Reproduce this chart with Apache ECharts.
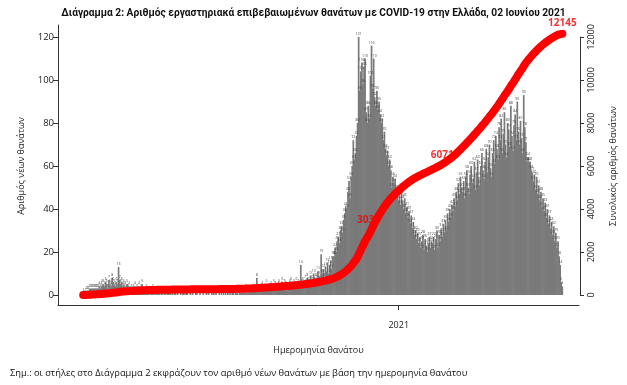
<!DOCTYPE html>
<html><head><meta charset="utf-8">
<script src="https://cdn.jsdelivr.net/npm/echarts@6/dist/echarts.min.js"></script>
<style>html,body{margin:0;padding:0;background:#fff}#c{width:627px;height:385px}</style>
</head><body><div id="c"></div>
<script>
// ---- data (daily deaths by date of death, from 12 March 2020) ----
const firstDay = [2020, 2, 12];
const deathsMar2020 = [1,0,1,2,2,2,3,3,3,3,3,3,3,3,3,4,3,4,5,5];
const deathsApr2020 = [4,6,5,3,7,5,4,8,6,5,4,6,5,13,7,5,6,4,5,4,3,5,3,4,2,3,2,3,4,2];
const deathsMay2020 = [3,2,4,2,3,5,2,1,2,3,1,2,0,2,1,3,1,0,2,1,1,2,0,1,1,0,2,1,0,1,1];
const deathsJun2020 = [1,0,1,0,1,2,0,1,0,0,1,0,1,1,0,2,1,0,0,1,0,1,0,0,1,1,0,0,1,0];
const deathsJul2020 = [0,1,0,0,1,0,1,0,0,2,0,1,0,1,0,0,1,0,1,0,2,0,1,0,1,0,1,0,2,1,0];
const deathsAug2020 = [1,1,1,0,2,1,2,1,1,2,3,1,2,1,2,2,3,2,3,2,8,2,2,3,2,4,3,3,2,5,3];
const deathsSep2020 = [3,2,4,3,2,5,4,3,2,4,5,3,4,6,3,5,4,2,3,4,5,6,4,3,5,4,6,3,5,4];
const deathsOct2020 = [14,5,6,4,7,5,8,6,5,9,7,6,10,6,8,7,11,9,7,19,10,12,8,13,11,15,10,14,16,12,18];
const deathsNov2020 = [18,22,20,25,27,24,30,32,29,35,38,41,40,48,53,45,55,60,72,63,66,74,80,121,95,104,108,98,106,110];
const deathsDec2020 = [85,80,88,82,102,116,96,110,92,88,95,86,90,84,80,82,72,76,68,65,67,60,63,58,50,55,52,54,46,49,44];
const deathsJan2021 = [46,42,50,44,40,45,38,41,36,39,33,37,31,34,28,30,26,29,24,27,22,25,28,21,26,23,20,24,27,22,25];
const deathsFeb2021 = [24,27,21,26,30,22,28,25,31,27,33,29,35,30,38,34,40,36,42,39,45,41,48,44,52,47,55,50];
const deathsMar2021 = [48,53,45,55,58,50,47,56,60,52,54,62,49,57,63,55,51,60,66,58,54,62,68,57,64,70,59,55,66,72,61];
const deathsApr2021 = [74,68,63,78,72,82,66,75,85,70,64,80,77,69,88,74,67,79,84,72,90,76,70,81,73,66,93,78,71,62];
const deathsMay2021 = [64,62,62,58,57,53,56,49,55,47,51,44,48,41,45,39,43,36,40,33,37,31,34,28,32,25,29,22,25,18,14];
const deathsJun2021 = [6,4];

const cumLabelDates = [[2020,11,6],[2021,1,10],[2021,5,2]];
const cumLabelTexts = ['3036','6071','12145'];
const xTickDates = [[2021,0,1]];
const xTickTexts = ['2021'];

const titleText = 'Διάγραμμα 2: Αριθμός εργαστηριακά επιβεβαιωμένων θανάτων με COVID-19 στην Ελλάδα, 02 Ιουνίου 2021';
const noteText = 'Σημ.: οι στήλες στο Διάγραμμα 2 εκφράζουν τον αριθμό νέων θανάτων με βάση την ημερομηνία θανάτου';
const leftName = 'Αριθμός νέων θανάτων';
const rightName = 'Συνολικός αριθμός θανάτων';
const xName = 'Ημερομηνία θανάτου';

// ---- build ----
const daily = [].concat(deathsMar2020, deathsApr2020, deathsMay2020, deathsJun2020, deathsJul2020,
  deathsAug2020, deathsSep2020, deathsOct2020, deathsNov2020, deathsDec2020, deathsJan2021,
  deathsFeb2021, deathsMar2021, deathsApr2021, deathsMay2021, deathsJun2021);
const DAY = 86400000;
const t0 = Date.UTC(firstDay[0], firstDay[1], firstDay[2]);
const barData = [], cumData = [];
let run = 0;
daily.forEach((v, i) => {
  const t = t0 + i * DAY;
  run += v;
  barData.push([t, v]);
  cumData.push([t, run]);
});
const cumAt = t => { const i = Math.round((t - t0) / DAY); return cumData[Math.max(0, Math.min(cumData.length - 1, i))][1]; };
const labelOffsets = [[-3, 0], [0, 0], [0, -2]];
const labelData = cumLabelDates.map((d, k) => {
  const t = Date.UTC(d[0], d[1], d[2]);
  return { value: [t, cumAt(t)], name: cumLabelTexts[k], label: { offset: labelOffsets[k] } };
});
const xMin = t0 - 23.5 * DAY;
const xMax = t0 + (daily.length - 1 + 16.5) * DAY;
const xTicks = xTickDates.map(d => Date.UTC(d[0], d[1], d[2]));

const FONT = 'Open Sans';
const AX = '#333';
const chart = echarts.init(document.getElementById('c'), null, { renderer: 'canvas' });
chart.setOption({
  animation: false,
  backgroundColor: '#fff',
  textStyle: { fontFamily: FONT },
  title: [
    { text: titleText, left: 'center', top: 3, textStyle: { fontFamily: 'Roboto', fontSize: 10.2, fontWeight: 'bold', color: '#111' } },
    { text: noteText, left: 5, top: 364, textStyle: { fontFamily: FONT, fontSize: 9.3, fontWeight: 'normal', color: '#111' } }
  ],
  grid: [
    { left: 58, right: 47, top: 37, bottom: 90 },
    { left: 58, right: 48, top: 25, bottom: 80 }
  ],
  xAxis: [
    { gridIndex: 0, type: 'value', min: xMin, max: xMax, show: false, splitLine: { show: false } },
    { gridIndex: 1, type: 'value', min: xMin, max: xMax,
      axisLine: { show: true, onZero: false, lineStyle: { color: AX, width: 1 } },
      axisTick: { show: true, customValues: xTicks, length: 5, lineStyle: { color: AX } },
      axisLabel: { show: true, customValues: xTicks, margin: 16, fontSize: 9, color: '#222', fontFamily: FONT,
        formatter: v => { const k = xTicks.indexOf(v); return k >= 0 ? xTickTexts[k] : ''; } },
      splitLine: { show: false },
      name: xName, nameLocation: 'middle', nameGap: 41,
      nameTextStyle: { fontSize: 9, color: '#222', fontFamily: FONT } }
  ],
  yAxis: [
    { gridIndex: 0, type: 'value', position: 'left', min: 0, max: 120, interval: 20,
      axisLine: { show: false },
      axisTick: { show: true, length: 5, lineStyle: { color: AX } },
      axisLabel: { fontSize: 9.5, color: '#222', margin: 4, fontFamily: FONT },
      splitLine: { show: false },
      name: leftName, nameLocation: 'middle', nameGap: 32, nameRotate: 90,
      nameTextStyle: { fontSize: 9, color: '#222', fontFamily: FONT } },
    { gridIndex: 0, type: 'value', position: 'right', min: 0, max: 12000, interval: 2000,
      axisLine: { show: true, lineStyle: { color: AX, width: 1 } },
      axisTick: { show: true, length: 4, lineStyle: { color: AX } },
      axisLabel: { fontSize: 9, color: '#222', margin: 7, rotate: 90, fontFamily: FONT, formatter: v => String(v) },
      splitLine: { show: false },
      name: rightName, nameLocation: 'middle', nameGap: 29, nameRotate: 90,
      nameTextStyle: { fontSize: 9, color: '#222', fontFamily: FONT } },
    { gridIndex: 1, type: 'value', position: 'left', min: 0, max: 1,
      axisLine: { show: true, onZero: false, lineStyle: { color: AX, width: 1 } },
      axisTick: { show: false }, axisLabel: { show: false }, splitLine: { show: false } }
  ],
  series: [
    { type: 'bar', xAxisIndex: 0, yAxisIndex: 0, data: barData, barWidth: 1.7,
      itemStyle: { color: '#7a7a7a' },
      label: { show: true, position: 'top', distance: 1, fontSize: 3.5, color: '#444', fontFamily: FONT },
      z: 2 },
    { type: 'scatter', xAxisIndex: 0, yAxisIndex: 1, data: labelData, symbolSize: 0, clip: false,
      label: { show: true, position: 'top', distance: 4, formatter: p => p.name, color: '#ee0000', fontSize: 10, fontWeight: 'bold', fontFamily: FONT },
      z: 3 },
    { type: 'line', xAxisIndex: 0, yAxisIndex: 1, data: cumData, showSymbol: false, symbol: 'none', clip: false,
      smooth: 0.3,
      lineStyle: { color: '#ff0000', width: 8, cap: 'round', join: 'round' },
      z: 5 }
  ]
});
</script></body></html>
